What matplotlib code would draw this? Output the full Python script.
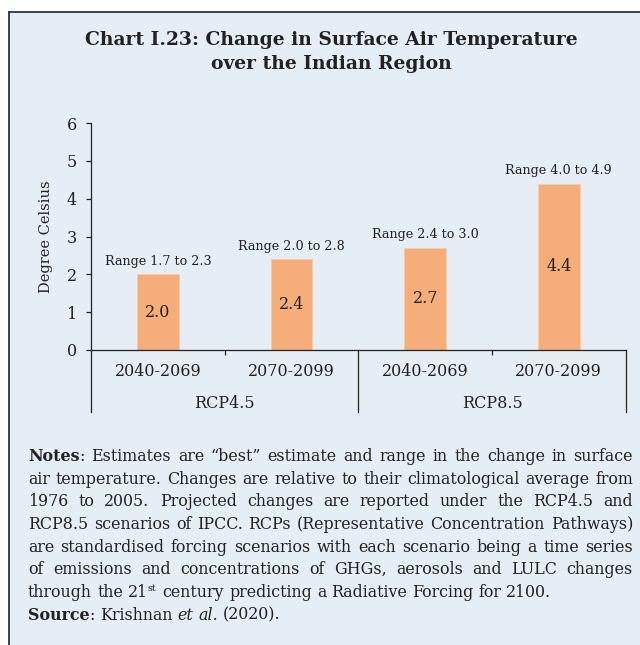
import re
import matplotlib.pyplot as plt
from matplotlib.patches import Rectangle
from matplotlib.lines import Line2D
from matplotlib.transforms import blended_transform_factory

plt.rcParams["font.family"] = "DejaVu Serif"

# data
periods = ["2040-2069", "2070-2099", "2040-2069", "2070-2099"]
scenarios = ["RCP4.5", "RCP8.5"]
best = [2.0, 2.4, 2.7, 4.4]
low = [1.7, 2.0, 2.4, 4.0]
high = [2.3, 2.8, 3.0, 4.9]
y_ticks = [0, 1, 2, 3, 4, 5, 6]

title = "Chart I.23: Change in Surface Air Temperature\nover the Indian Region"
y_label = "Degree Celsius"

# **bold**, _italic_, ^superscript^
notes_lines = [
    "**Notes**: Estimates are “best” estimate and range in the change in surface",
    "air temperature. Changes are relative to their climatological average from",
    "1976 to 2005. Projected changes are reported under the RCP4.5 and",
    "RCP8.5 scenarios of IPCC. RCPs (Representative Concentration Pathways)",
    "are standardised forcing scenarios with each scenario being a time series",
    "of emissions and concentrations of GHGs, aerosols and LULC changes",
    "through the 21^st^ century predicting a Radiative Forcing for 2100.",
    "**Source**: Krishnan _et_ _al._ (2020).",
]
justified = [True, True, True, True, True, True, False, False]

W, H = 640, 645
bg = "#e6edf5"
bar_color = "#f5ae7a"
ink = "#222222"

fig = plt.figure(figsize=(W / 100, H / 100), dpi=100, facecolor="white")


def fx(px):
    return px / W


def fy(py):
    return 1 - py / H


# panel background and border
fig.patches.append(Rectangle((fx(9), 0), 1, fy(12), transform=fig.transFigure,
                             facecolor=bg, edgecolor="none", zorder=-5))
fig.lines.append(Line2D([fx(9), 1], [fy(12), fy(12)], transform=fig.transFigure,
                        color="#333333", linewidth=1.3, zorder=-4))
fig.lines.append(Line2D([fx(9), fx(9)], [fy(12), 0], transform=fig.transFigure,
                        color="#333333", linewidth=1.3, zorder=-4))

fig.text(fx(331), fy(52), title, ha="center", va="center", fontsize=13.5,
         fontweight="bold", color=ink, linespacing=1.38)

ax = fig.add_axes([fx(91), fy(350), fx(625.7) - fx(91), (350 - 123) / H])
ax.set_facecolor("none")
x = list(range(len(best)))
ax.bar(x, best, width=0.314, color=bar_color, edgecolor="#f8c9a4", linewidth=0.6, zorder=2)
ax.set_xlim(-0.5, 3.5)
ax.set_ylim(0, 6)
ax.set_yticks(y_ticks)
ax.tick_params(axis="y", length=3.6, width=0.9, pad=6.5, labelsize=11.5, colors=ink)
ax.set_xticks([0.5, 2.5])
ax.set_xticklabels([])
ax.tick_params(axis="x", length=3.6, width=0.9, colors=ink)
for s in ["top", "right"]:
    ax.spines[s].set_visible(False)
for s in ["left", "bottom"]:
    ax.spines[s].set_color(ink)
    ax.spines[s].set_linewidth(0.9)
ax.set_ylabel(y_label, fontsize=10.5, color=ink, labelpad=10)

tr = blended_transform_factory(ax.transData, ax.transAxes)
ax_h = 350 - 123
for sep in [-0.5, 1.5, 3.5]:
    ax.add_line(Line2D([sep, sep], [0, -(412 - 350) / ax_h], transform=tr,
                       color=ink, linewidth=0.9, clip_on=False))
for i, p in enumerate(periods):
    ax.text(i, -(371.5 - 350) / ax_h, p, transform=tr, ha="center", va="center",
            fontsize=11.5, color=ink)
for g, name in enumerate(scenarios):
    ax.text(2 * g + 0.5, -(403 - 350) / ax_h, name, transform=tr, ha="center",
            va="center", fontsize=11.5, color=ink)

for i in x:
    ax.text(i, best[i] / 2, f"{best[i]:.1f}", ha="center", va="center",
            fontsize=11.5, color=ink, zorder=3)
    ax.annotate(f"Range {low[i]:.1f} to {high[i]:.1f}", (i, best[i]),
                xytext=(0, 9.5), textcoords="offset points", ha="center",
                va="center", fontsize=9.2, color=ink)

# notes block, justified by hand
renderer = fig.canvas.get_renderer()
note_size = 11.4
left_px, right_px = 28, 633
base0, step = 461, 22.65


def parse(word):
    pieces = []
    for tok in re.split(r"(\*\*.+?\*\*|_.+?_|\^.+?\^)", word):
        if not tok:
            continue
        if tok.startswith("**"):
            pieces.append((tok[2:-2], "bold"))
        elif tok.startswith("^"):
            pieces.append((tok[1:-1], "sup"))
        elif tok.startswith("_"):
            pieces.append((tok[1:-1], "italic"))
        else:
            pieces.append((tok, "normal"))
    return pieces


def props(style):
    d = dict(fontsize=note_size, color=ink)
    if style == "bold":
        d["fontweight"] = "bold"
    elif style == "italic":
        d["fontstyle"] = "italic"
    elif style == "sup":
        d["fontsize"] = note_size * 0.6
    return d


def ink_width(s, style):
    t = fig.text(0, 0, s, **props(style))
    w = t.get_window_extent(renderer).width
    t.remove()
    return w


def advance(s, style):
    # width between two bars, so side bearings are counted
    return ink_width("|" + s + "|", style) - ink_width("||", style)


space_w = advance(" ", "normal")

for li, line in enumerate(notes_lines):
    words = [parse(w) for w in line.split(" ")]
    widths = [[advance(s, st) for s, st in w] for w in words]
    total = sum(sum(w) for w in widths)
    if justified[li] and len(words) > 1:
        gap = (right_px - left_px - total) / (len(words) - 1)
    else:
        gap = space_w
    base = base0 + li * step
    cx = left_px
    for w, ws in zip(words, widths):
        for (s, st), pw in zip(w, ws):
            dy = 6 if st == "sup" else 0
            fig.text(fx(cx), fy(base - dy), s, va="baseline", ha="left", **props(st))
            cx += pw + (1 if st == "sup" else 0)
        cx += gap

fig.savefig("out.png", dpi=100, facecolor="white")
